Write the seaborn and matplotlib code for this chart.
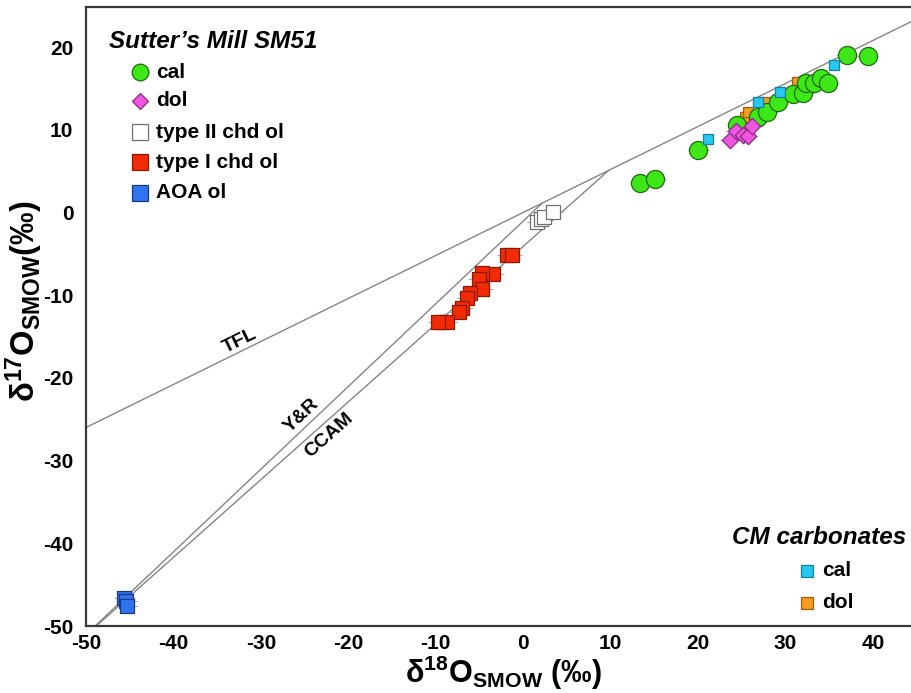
import numpy as np
import pandas as pd
import matplotlib
matplotlib.use("Agg")
import matplotlib.pyplot as plt
import seaborn as sns

# ---------------- data (per mil, SMOW) ----------------
# Sutter's Mill SM51
sm_cal_d18 = [13.4, 15.1, 20.0, 24.5, 26.8, 27.9, 29.1, 30.9, 32.0, 32.3, 33.2, 34.0, 34.9, 37.0, 39.4]
sm_cal_d17 = [3.6, 4.1, 7.5, 10.6, 11.6, 12.2, 13.4, 14.3, 14.5, 15.7, 15.7, 16.3, 15.7, 19.0, 18.9]

sm_dol_d18 = [23.7, 24.3, 25.1, 25.7, 26.2]
sm_dol_d17 = [8.8, 9.8, 9.4, 9.2, 10.4]

type2_d18 = [1.6, 2.0, 2.4, 3.4]
type2_d17 = [-1.2, -0.8, -0.5, 0.0]

type1_d18 = [-1.8, -1.3, -3.4, -4.7, -5.1, -4.7, -6.1, -6.4, -7.0, -7.4, -9.3, -8.7, -9.7]
type1_d17 = [-5.1, -5.1, -7.5, -7.3, -8.1, -9.3, -9.7, -10.3, -11.5, -12.0, -13.2, -13.3, -13.3]

aoa_d18 = [-45.6, -45.4, -45.3]
aoa_d17 = [-46.6, -47.0, -47.6]

# CM chondrite carbonates
cm_cal_d18 = [21.1, 26.8, 29.4, 35.5]
cm_cal_d17 = [8.9, 13.3, 14.6, 17.8]

cm_dol_d18 = [25.4, 25.7, 27.7, 31.3]
cm_dol_d17 = [11.5, 12.2, 13.4, 15.8]

x_err = 1.2

# reference lines: d17 = slope * d18 + intercept
tfl_slope, tfl_int = 0.52, 0.0
yr_slope, yr_int = 1.00, -1.04
ccam_slope, ccam_int = 0.94, -4.1

sm_labels = ["cal", "dol", "type II chd ol", "type I chd ol", "AOA ol"]
cm_labels = ["cal", "dol"]

# ---------------- style ----------------
sns.set_theme(style="white")
plt.rcParams["font.family"] = ["Liberation Sans", "DejaVu Sans"]
plt.rcParams["font.weight"] = "bold"
plt.rcParams["axes.unicode_minus"] = False
plt.rcParams["text.color"] = "black"
plt.rcParams["axes.labelcolor"] = "black"
plt.rcParams["mathtext.fontset"] = "custom"
plt.rcParams["mathtext.rm"] = "Liberation Sans:bold"
plt.rcParams["mathtext.bf"] = "Liberation Sans:bold"
plt.rcParams["mathtext.it"] = "Liberation Sans:italic:bold"

fig = plt.figure(figsize=(9.12, 6.93), dpi=100)
ax = fig.add_axes([86 / 912, 67 / 693, 826 / 912, 619 / 693])
ax.set_xlim(-50, 44.46)
ax.set_ylim(-50, 24.84)

line_color = "#858585"

# TFL across the whole panel
tfl_x = np.array([-55.0, 55.0])
sns.lineplot(x=tfl_x, y=tfl_slope * tfl_x + tfl_int, ax=ax, color=line_color,
             lw=1.0, sort=False, estimator=None)

# Y&R and CCAM end where they meet the TFL
def meet_tfl(slope, icpt):
    return (tfl_int - icpt) / (slope - tfl_slope)

for slope, icpt in [(yr_slope, yr_int), (ccam_slope, ccam_int)]:
    lx = np.array([-52.0, meet_tfl(slope, icpt)])
    sns.lineplot(x=lx, y=slope * lx + icpt, ax=ax, color=line_color,
                 lw=1.0, sort=False, estimator=None)

# error bars for SM51 analyses
for xs, ys in [(sm_cal_d18, sm_cal_d17), (sm_dol_d18, sm_dol_d17),
               (type2_d18, type2_d17), (type1_d18, type1_d17),
               (aoa_d18, aoa_d17)]:
    ax.errorbar(xs, ys, xerr=x_err, fmt="none", ecolor="#b0b0b0",
                elinewidth=0.8, capsize=0, zorder=2)

styles = {
    "sm_cal": ("o", 170, "#3ee818", "#1f6a0c"),
    "sm_dol": ("D", 70, "#ee55e0", "#8a2a80"),
    "type2": ("s", 100, "white", "#707070"),
    "type1": ("s", 105, "#f22a06", "#8a1a05"),
    "aoa": ("s", 105, "#2f74ee", "#1a3a80"),
    "cm_cal": ("s", 52, "#25c8ef", "#1a7fa0"),
    "cm_dol": ("s", 52, "#f39c1f", "#9a6010"),
}
draw_order = [
    ("cm_dol", cm_dol_d18, cm_dol_d17),
    ("type2", type2_d18, type2_d17),
    ("type1", type1_d18, type1_d17),
    ("aoa", aoa_d18, aoa_d17),
    ("sm_cal", sm_cal_d18, sm_cal_d17),
    ("cm_cal", cm_cal_d18, cm_cal_d17),
    ("sm_dol", sm_dol_d18, sm_dol_d17),
]
for i, (key, xs, ys) in enumerate(draw_order):
    mk, sz, fc, ec = styles[key]
    sns.scatterplot(x=xs, y=ys, ax=ax, marker=mk, s=sz, color=fc,
                    edgecolor=ec, linewidth=0.9, zorder=3 + i, legend=False)

# ---------------- axes cosmetics ----------------
ax.set_xticks(np.arange(-50, 41, 10))
ax.set_yticks(np.arange(-50, 21, 10))
ax.tick_params(axis="both", direction="in", length=3, width=0.8, color="#999999",
               labelsize=15, labelcolor="black")
ax.tick_params(axis="x", pad=6)
ax.tick_params(axis="y", pad=9)
for lab in ax.get_xticklabels() + ax.get_yticklabels():
    lab.set_fontweight("bold")
for side in ["left", "bottom", "top"]:
    ax.spines[side].set_color("#3a3a3a")
    ax.spines[side].set_linewidth(1.6)
ax.spines["right"].set_visible(False)

ax.set_xlabel("\u03b4$^{18}$O$_{\\mathbf{SMOW}}$ (‰)", fontsize=22, fontweight="bold")
ax.set_ylabel("\u03b4$^{17}$O$_{\\mathbf{SMOW}}$(‰)", fontsize=23.5, fontweight="bold")
ax.xaxis.set_label_coords(0.505, -0.045)
ax.yaxis.set_label_coords(-0.050, 0.525)

# line labels, rotated along each line
def line_angle(slope):
    p0 = ax.transData.transform((0.0, 0.0))
    p1 = ax.transData.transform((10.0, 10.0 * slope))
    return np.degrees(np.arctan2(p1[1] - p0[1], p1[0] - p0[0]))

for txt, lx, ly, slope in [("TFL", -32.4, -15.5, tfl_slope),
                           ("Y&R", -25.4, -24.6, yr_slope),
                           ("CCAM", -22.2, -27.0, ccam_slope)]:
    ax.text(lx, ly, txt, rotation=line_angle(slope), ha="center", va="center",
            fontsize=14, fontweight="bold", rotation_mode="anchor", zorder=10)

# ---------------- legends ----------------
def px(x, y):
    """figure pixel (from top-left) -> axes fraction"""
    return ((x - 86) / 826, (626 - y) / 619)

def legend_block(title, title_xy, title_ha, keys, labels, marker_x, rows, text_x, msizes):
    tx, ty = px(*title_xy)
    ax.text(tx, ty, title, transform=ax.transAxes, ha=title_ha, va="center",
            fontsize=17.5, fontweight="bold", fontstyle="italic", zorder=20)
    for key, lab, ry, ms in zip(keys, labels, rows, msizes):
        mk, _, fc, ec = styles[key]
        mx, my = px(marker_x, ry)
        ax.plot([mx], [my], transform=ax.transAxes, ls="none", marker=mk,
                markersize=ms, markerfacecolor=fc, markeredgecolor=ec,
                markeredgewidth=0.9, clip_on=False, zorder=20)
        lx, ly = px(text_x, ry)
        ax.text(lx, ly, lab, transform=ax.transAxes, ha="left", va="center",
                fontsize=15, fontweight="bold", zorder=20)

legend_block("Sutter\u2019s Mill SM51", (109, 42), "left",
             ["sm_cal", "sm_dol", "type2", "type1", "aoa"], sm_labels,
             140, [72, 101, 132, 162, 193], 156, [12, 8.5, 11, 11, 11])
legend_block("CM carbonates", (906, 538), "right",
             ["cm_cal", "cm_dol"], cm_labels,
             807, [571, 603], 822, [8.5, 8.5])

fig.savefig("out.png", dpi=100, facecolor="white")
